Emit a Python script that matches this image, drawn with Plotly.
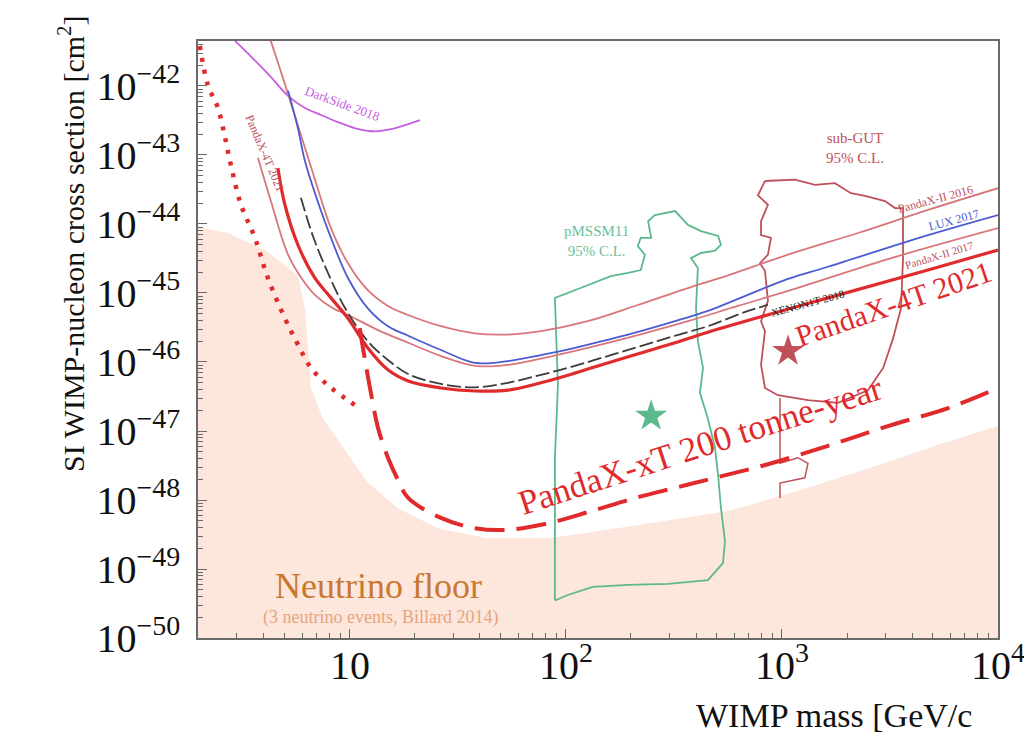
import numpy as np
import plotly.graph_objects as go

FONT = "Liberation Serif"

# ---------------- data (WIMP mass in GeV/c^2, cross section in cm^2) ----------------
floor_mass = [1.9, 2.72, 4.04, 5.74, 6.19, 6.6, 7.5, 9.3, 12.1, 16.7, 25.5, 43.6, 82.6, 156, 297, 562, 1319, 2780, 5273, 11000]
floor_sigma = [9.3e-45, 7.4e-45, 4.2e-45, 1.8e-45, 6.0e-46, 4.2e-47, 1.5e-47, 5.7e-48, 1.8e-48, 7.6e-49, 3.9e-49,
               2.8e-49, 2.8e-49, 3.7e-49, 5.1e-49, 6.9e-49, 1.5e-48, 3.2e-48, 6.3e-48, 1.3e-47]
floor_bottom = 1e-51

dotted_mass = [2.02, 2.2, 2.45, 2.64, 2.81, 3.13, 3.63, 4.17, 5.0, 5.74, 6.6, 7.91, 9.48, 10.7]
dotted_sigma = [3.8e-42, 1.03e-42, 4.8e-43, 1.8e-43, 7.2e-44, 1.9e-44, 6.3e-45, 1.65e-45, 4.3e-46, 1.8e-46,
                8.2e-47, 4.6e-47, 3.0e-47, 2.3e-47]

xt_mass = [11.1, 11.7, 12.5, 13.5, 15.0, 16.7, 18.6, 26.4, 37.9, 53.9, 82.6, 131, 209, 320, 490, 861, 1633, 3096, 5880, 10000]
xt_sigma = [3.1e-46, 1.14e-46, 3.6e-47, 1.1e-47, 4.1e-48, 1.95e-48, 1.07e-48, 5.5e-49, 3.9e-49, 3.7e-49, 4.6e-49,
            6.9e-49, 1.07e-48, 1.5e-48, 2.1e-48, 3.3e-48, 6.1e-48, 1.18e-47, 2.15e-47, 4.2e-47]

p4t_mass = [4.64, 5.0, 5.74, 6.88, 8.17, 9.79, 12.1, 15.0, 18.6, 26.4, 37.9, 53.9, 76.6, 110, 156, 222, 320, 454, 1633, 4742, 10000]
p4t_sigma = [6.5e-44, 1.9e-44, 5.0e-45, 1.65e-45, 8.5e-46, 4.3e-46, 1.6e-46, 7.7e-47, 5.3e-47, 4.2e-47, 3.8e-47,
             3.9e-47, 5.0e-47, 6.9e-47, 9.7e-47, 1.35e-46, 1.9e-46, 2.7e-46, 8.5e-46, 2.15e-45, 4.2e-45]

x1t_mass = [5.93, 6.74, 7.91, 9.48, 12.1, 15.0, 18.6, 26.4, 37.9, 53.9, 76.6, 110, 156, 222, 320, 454, 696, 861]
x1t_sigma = [2.4e-44, 6.7e-45, 1.95e-45, 6.1e-46, 2.0e-46, 1.07e-46, 6.7e-47, 4.8e-47, 4.3e-47, 5.0e-47, 6.5e-47,
             8.8e-47, 1.22e-46, 1.7e-46, 2.4e-46, 3.3e-46, 5.5e-46, 6.7e-46]

lux_mass = [5.17, 5.74, 6.19, 7.35, 8.17, 9.79, 12.1, 15.0, 18.6, 26.4, 37.9, 53.9, 76.6, 110, 156, 222, 320, 454,
            1067, 1633, 4742, 10000]
lux_sigma = [8.5e-43, 2.46e-43, 8.2e-44, 1.54e-44, 6.3e-45, 1.65e-45, 6.0e-46, 3.3e-46, 2.4e-46, 1.49e-46, 9.7e-47,
             1.03e-46, 1.26e-46, 1.6e-46, 2.1e-46, 2.8e-46, 3.9e-46, 5.5e-46, 1.6e-45, 2.4e-45, 6.9e-45, 1.35e-44]

p2016_mass = [4.30, 4.90, 5.74, 6.74, 8.17, 9.79, 12.1, 15.0, 18.6, 26.4, 37.9, 53.9, 76.6, 126, 215, 367, 562,
              1067, 2248, 4742, 10000]
p2016_sigma = [4.5e-42, 1.3e-42, 2.7e-43, 5.5e-44, 8.7e-45, 2.7e-45, 1.1e-45, 6.5e-46, 4.8e-46, 3.3e-46, 2.6e-46,
               2.5e-46, 2.8e-46, 3.9e-46, 6.7e-46, 1.18e-45, 1.8e-45, 3.6e-45, 7.4e-45, 1.6e-44, 3.3e-44]

p2017_mass = [3.75, 4.26, 5.17, 6.05, 6.88, 8.34, 9.79, 13.5, 18.6, 26.4, 37.9, 53.9, 82.6, 126, 215, 367, 625,
              1067, 3096, 10000]
p2017_sigma = [9.1e-44, 2.4e-44, 3.6e-45, 1.54e-45, 9.4e-46, 6.0e-46, 4.8e-46, 2.9e-46, 1.9e-46, 1.22e-46, 8.8e-47,
               9.1e-47, 1.18e-46, 1.6e-46, 2.45e-46, 3.9e-46, 6.5e-46, 1.07e-45, 3.1e-45, 8.7e-45]

ds_mass = [2.94, 3.56, 4.26, 5.17, 6.19, 7.35, 8.8, 10.5, 13.1, 15.8, 18.6, 21.1]
ds_sigma = [4.5e-42, 2.5e-42, 1.4e-42, 7.2e-43, 4.8e-43, 3.8e-43, 3.0e-43, 2.46e-43, 2.2e-43, 2.4e-43, 2.8e-43, 3.2e-43]

pmssm_mass = [88.9, 88.9, 91.8, 88.9, 117, 161, 194, 222, 232, 215, 222, 248, 240, 258, 320, 367, 422, 506, 522, 490,
              422, 379, 408, 400, 408, 431, 417, 454, 490, 506, 522, 545, 533, 454, 297, 194, 133, 102, 88.9]
pmssm_sigma = [3.5e-50, 4.1e-48, 4.6e-47, 8.5e-46, 1.18e-45, 1.76e-45, 1.95e-45, 2.15e-45, 3.6e-45, 4.8e-45, 6.3e-45,
               6.3e-45, 1.1e-44, 1.35e-44, 1.54e-44, 9.7e-45, 7.9e-45, 6.7e-45, 5.0e-45, 4.1e-45, 3.8e-45, 3.2e-45,
               2.3e-45, 6.0e-46, 2.0e-46, 8.2e-47, 3.6e-47, 1.5e-47, 5.7e-48, 2.3e-48, 7.6e-49, 2.5e-49, 1.22e-49,
               6.9e-50, 6.1e-50, 5.9e-50, 5.5e-50, 4.2e-50, 3.5e-50]
pmssm_star = ([248], [1.65e-47])

gut_mass = [834, 774, 861, 800, 800, 889, 861, 791, 834, 861, 800, 834, 800, 834, 958, 1319, 1816, 2500, 2940, 3268,
            3556, 3634, 3634, 3337, 2998, 2422, 2085, 1758, 1422, 1149, 834]
gut_sigma = [4.2e-44, 2.6e-44, 1.9e-44, 1.1e-44, 6.9e-45, 6.3e-45, 3.6e-45, 2.7e-45, 2.1e-45, 7.7e-46, 3.9e-46,
             2.8e-46, 9.1e-47, 4.2e-47, 3.3e-47, 2.8e-47, 2.55e-47, 3.9e-47, 8.2e-47, 2.2e-46, 6.0e-46, 3.2e-45,
             1.7e-44, 1.7e-44, 2.15e-44, 2.55e-44, 2.8e-44, 3.9e-44, 3.7e-44, 4.4e-44, 4.2e-44]
gut_tail_mass = [979, 979, 1186, 1319, 1276, 979, 979]
gut_tail_sigma = [3.0e-47, 3.4e-48, 4.1e-48, 3.4e-48, 2.1e-48, 1.76e-48, 1.07e-48]
gut_star = ([1067], [1.44e-46])

x_tick_vals = [10, 100, 1000, 10000]
x_tick_text = ["10", "10<sup>2</sup>", "10<sup>3</sup>", "10<sup>4</sup>"]
y_exponents = list(range(-50, -41))
y_tick_vals = [10.0 ** e for e in y_exponents]
y_tick_text = ["10<sup>\u2212%d</sup>" % (-e) for e in y_exponents]

# ---------------- colours ----------------
C_FLOOR = "#fde6dc"
C_RED = "#e02a2c"
C_PINK = "#d8767c"
C_BLUE = "#4b5bd2"
C_BLACK = "#3c3c3c"
C_PURPLE = "#c45ee0"
C_GREEN = "#5cb98c"
C_GUT = "#c0505a"

fig = go.Figure()

# neutrino floor
fig.add_trace(go.Scatter(x=floor_mass + [floor_mass[-1], floor_mass[0]],
                         y=floor_sigma + [floor_bottom, floor_bottom],
                         fill="toself", fillcolor=C_FLOOR, mode="lines",
                         line=dict(width=0, color=C_FLOOR), hoverinfo="skip"))

# model contours
fig.add_trace(go.Scatter(x=pmssm_mass, y=pmssm_sigma, mode="lines", line=dict(color=C_GREEN, width=1.8)))
fig.add_trace(go.Scatter(x=gut_mass, y=gut_sigma, mode="lines", line=dict(color=C_GUT, width=1.8)))
fig.add_trace(go.Scatter(x=gut_tail_mass, y=gut_tail_sigma, mode="lines", line=dict(color=C_GUT, width=1.5)))
fig.add_trace(go.Scatter(x=pmssm_star[0], y=pmssm_star[1], mode="markers",
                         marker=dict(symbol="star", size=24, color=C_GREEN)))
fig.add_trace(go.Scatter(x=gut_star[0], y=gut_star[1], mode="markers",
                         marker=dict(symbol="star", size=24, color=C_GUT)))

# experimental limits
fig.add_trace(go.Scatter(x=ds_mass, y=ds_sigma, mode="lines", line=dict(color=C_PURPLE, width=1.8, shape="spline")))
fig.add_trace(go.Scatter(x=p2016_mass, y=p2016_sigma, mode="lines", line=dict(color=C_PINK, width=1.8, shape="spline")))
fig.add_trace(go.Scatter(x=lux_mass, y=lux_sigma, mode="lines", line=dict(color=C_BLUE, width=1.8, shape="spline")))
fig.add_trace(go.Scatter(x=p2017_mass, y=p2017_sigma, mode="lines", line=dict(color=C_PINK, width=1.8, shape="spline")))
fig.add_trace(go.Scatter(x=x1t_mass, y=x1t_sigma, mode="lines",
                         line=dict(color=C_BLACK, width=1.8, dash="14px,4px", shape="spline")))
fig.add_trace(go.Scatter(x=p4t_mass, y=p4t_sigma, mode="lines", line=dict(color=C_RED, width=3.2, shape="spline")))
fig.add_trace(go.Scatter(x=dotted_mass, y=dotted_sigma, mode="lines",
                         line=dict(color=C_RED, width=4.5, dash="4px,8px", shape="spline")))
fig.add_trace(go.Scatter(x=xt_mass, y=xt_sigma, mode="lines",
                         line=dict(color=C_RED, width=4, dash="30px,12px", shape="spline")))


def ann(text, m, s, size, color, angle=0, **kw):
    fig.add_annotation(x=np.log10(m), y=np.log10(s), xref="x", yref="y", text=text, showarrow=False,
                       textangle=angle, font=dict(family=FONT, size=size, color=color), **kw)


ann("PandaX-4T 2021", 3300, 7.0e-46, 30, C_RED, -19)
ann("PandaX-xT 200 tonne-year", 420, 6.2e-48, 35, C_RED, -18)
ann("Neutrino floor", 13.6, 5.6e-50, 36, "#c8782f")
ann("(3 neutrino events, Billard 2014)", 13.8, 1.95e-50, 18, "#e6a57c")
ann("DarkSide 2018", 9.2, 5.5e-43, 13, C_PURPLE, 20)
ann("PandaX-4T 2021", 4.04, 1.07e-43, 12, C_GUT, 67)
ann("sub-GUT<br>95% C.L.", 2180, 1.25e-43, 15, C_GUT)
ann("pMSSM11<br>95% C.L.", 96, 5.6e-45, 15, "#6cbf98", xanchor="left")
ann("PandaX-II 2016", 5160, 2.3e-44, 12, C_GUT, -15)
ann("LUX 2017", 6250, 1.15e-44, 12, C_BLUE, -15)
ann("PandaX-II 2017", 5380, 3.5e-45, 11, C_GUT, -17)
ann("XENON1T 2018", 1319, 7.2e-46, 11, "#222222", -15)

# axis titles as free text (placed like the reference)
fig.add_annotation(xref="paper", yref="paper", x=-0.185, y=0.66, showarrow=False, textangle=-90,
                   text="SI WIMP-nucleon cross section [cm<sup>2</sup>]",
                   font=dict(family=FONT, size=30, color="#111111"))
fig.add_annotation(xref="paper", yref="paper", x=0.62, y=-0.13, xanchor="left", yanchor="middle",
                   showarrow=False, text="WIMP mass [GeV/c",
                   font=dict(family=FONT, size=34, color="#111111"))

minor_x = [d * 10 ** k for k in range(0, 4) for d in range(2, 10)]
minor_y = [d * 10.0 ** e for e in range(-50, -41) for d in range(2, 10)]

axis_common = dict(type="log", showline=True, linecolor="#6a6a6a", linewidth=1.5, mirror=True,
                   ticks="inside", ticklen=9, tickwidth=1.3, tickcolor="#6a6a6a",
                   showgrid=False, zeroline=False,
                   tickfont=dict(family=FONT, size=40, color="#111111"))

fig.update_xaxes(range=[np.log10(1.98), 4], tickvals=x_tick_vals, ticktext=x_tick_text,
                 minor=dict(ticks="inside", ticklen=5, tickcolor="#6a6a6a", tickvals=minor_x, showgrid=False),
                 ticklabelstandoff=-9, **axis_common)
fig.update_yaxes(range=[-50, -41.348], tickvals=y_tick_vals, ticktext=y_tick_text,
                 minor=dict(ticks="inside", ticklen=5, tickcolor="#6a6a6a", tickvals=minor_y, showgrid=False),
                 ticklabelstandoff=8, **axis_common)

fig.update_layout(width=1032, height=739, margin=dict(l=190, r=42, t=33, b=109),
                  plot_bgcolor="white", paper_bgcolor="white", showlegend=False,
                  font=dict(family=FONT))

fig.write_html("out.html")
